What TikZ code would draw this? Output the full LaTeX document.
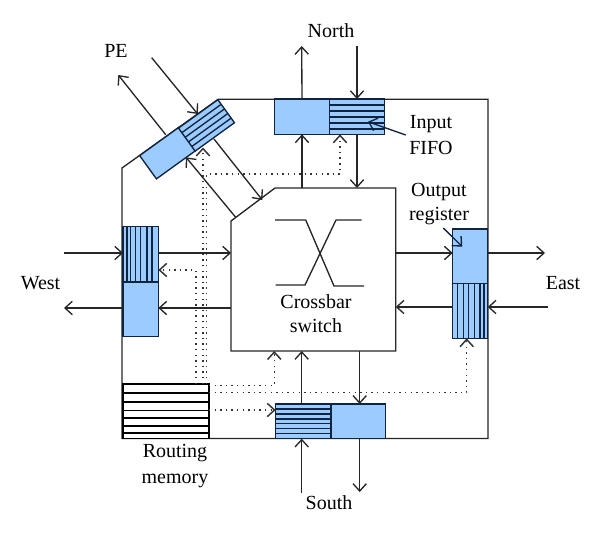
\documentclass[tikz,border=0pt]{standalone}
\usepackage{fontspec}
\setmainfont{Liberation Serif}
\usetikzlibrary{arrows.meta,calc}
\definecolor{boxblue}{HTML}{9CCBFF}
\definecolor{boxline}{HTML}{10233F}
\tikzset{
  >={Straight Barb[length=5.5pt,width=10pt]},
  wire/.style={line width=1pt,black!85},
  flow/.style={wire,->},
  dots/.style={line width=1.1pt,black!80,dash pattern=on 1.1pt off 3.1pt,->},
  cell/.style={draw=boxline,line width=1pt,fill=boxblue,inner sep=0pt,outer sep=0pt},
  rowline/.style={draw=boxline,line width=1pt},
  lab/.style={font=\fontsize{15pt}{17pt}\selectfont,inner sep=0pt,align=center},
  memrow/.style={draw=black,line width=1pt}
}
\newcommand{\cellbox}[6][0]{\node[cell,rotate=#1,minimum width=#4*0.75pt,minimum height=#5*0.75pt] (#2) at (#3) {};}
\begin{document}
\begin{tikzpicture}[x=0.75pt,y=-0.75pt]
\useasboundingbox (0,0) rectangle (600,535);
% router outline
\coordinate (oa) at (122,168);
\coordinate (ob) at (218.3,99.2);
\coordinate (oc) at (488,99.2);
\coordinate (od) at (488,438.5);
\coordinate (oe) at (122,438.5);
\draw[wire,line join=miter] (oa) -- (ob) -- (oc) -- (od) -- (oe) -- cycle;
% crossbar
\node[inner sep=0pt,outer sep=0pt,minimum width=164.7*0.75pt,minimum height=163*0.75pt] (xbar) at (313.35,269.5) {};
\coordinate (cuta) at (275,188);
\coordinate (cutb) at (231,221);
\draw[wire,fill=white] (cuta) -- (xbar.north east) -- (xbar.south east) -- (xbar.south west) -- (cutb) -- cycle;
\coordinate (xa) at (275,220); \coordinate (xb) at (305.7,220); \coordinate (xc) at (334,286); \coordinate (xd) at (364,286);
\coordinate (xe) at (275.7,285); \coordinate (xf) at (305,285); \coordinate (xg) at (336,220); \coordinate (xh) at (361.7,220);
\draw[wire] (xa) -- (xb) -- (xc) -- (xd);
\draw[wire] (xe) -- (xf) -- (xg) -- (xh);
\node[lab] (xtxt) at (316,313.5) {Crossbar\\[1pt]switch};
% buffers
\cellbox{nb}{302,116.7}{54.6}{35.3}{}
\cellbox{nf}{357,116.7}{55.4}{35.3}{}
\cellbox{sf}{303.3,421.3}{55.3}{34.7}{}
\cellbox{sb}{358.4,421.3}{54.7}{34.7}{}
\cellbox{ef}{470.2,310.8}{35}{55}{}
\cellbox{eb}{470.2,256.2}{35}{54.4}{}
\cellbox{wf}{140.7,254.3}{35.3}{55.3}{}
\cellbox{wb}{140.7,309.3}{35.3}{54.7}{}
\cellbox[35.8]{pb}{167.5,153.2}{48}{28.7}{}
\cellbox[35.8]{pf}{206.5,125.4}{48.5}{28.4}{}
\foreach \t in {.17,.34,.51,.68,.85}
  \draw[rowline] ($(nf.north west)!\t!(nf.south west)$) -- ($(nf.north east)!\t!(nf.south east)$);
\foreach \t in {.15,.29,.43,.57,.71,.86}
  \draw[rowline] ($(sf.north west)!\t!(sf.south west)$) -- ($(sf.north east)!\t!(sf.south east)$);
\foreach \t in {.13,.3,.46,.63,.78,.89}
  \draw[rowline] ($(ef.north west)!\t!(ef.north east)$) -- ($(ef.south west)!\t!(ef.south east)$);
\foreach \t in {.11,.22,.36,.5,.68,.82}
  \draw[rowline] ($(wf.north west)!\t!(wf.north east)$) -- ($(wf.south west)!\t!(wf.south east)$);
\foreach \t in {.2,.4,.6,.8}
  \draw[rowline] ($(pf.south west)!\t!(pf.north west)$) -- ($(pf.south east)!\t!(pf.north east)$);
% routing memory
\node[draw=black,line width=1pt,fill=white,inner sep=0pt,outer sep=0pt,minimum width=86*0.75pt,minimum height=54.5*0.75pt] (mem) at (166,411.3) {};
\foreach \t in {.165,.33,.48,.625,.77,.9}
  \draw[memrow] ($(mem.north west)!\t!(mem.south west)$) -- ($(mem.north east)!\t!(mem.south east)$);
% free ends
\coordinate (northout) at (301.7,46);
\coordinate (northin) at (357,46);
\coordinate (southin) at (301.7,493);
\coordinate (southout) at (359.7,492);
\coordinate (eastout) at (545,253);
\coordinate (eastin) at (548,307);
\coordinate (westin) at (64,253);
\coordinate (westout) at (64,308);
\coordinate (peout) at (118.3,75);
\coordinate (pein) at (151.7,57.7);
% north
\draw[flow] (nb.north |- oc) -- (northout);
\draw[flow] (northin) -- (nf.north);
\draw[flow] (nb.south |- xbar.north) -- (nb.south);
\draw[flow] (nf.south) -- (nf.south |- xbar.north);
% south
\draw[flow] (southin) -- (southin |- sf.south);
\draw[flow] (southout |- sb.south) -- (southout);
\draw[flow] (southin |- sf.north) -- (southin |- xbar.south);
\draw[flow] (southout |- xbar.south) -- (southout |- sb.north);
% east
\draw[flow] (xbar.east |- eastout) -- (eb.west |- eastout);
\draw[flow] (eb.east |- eastout) -- (eastout);
\draw[flow] (eastin) -- (ef.east |- eastin);
\draw[flow] (ef.west |- eastin) -- (xbar.east |- eastin);
% west
\draw[flow] (westin) -- (wf.west |- westin);
\draw[flow] (wb.west |- westout) -- (westout);
\draw[flow] (wf.east |- westin) -- (xbar.west |- westin);
\draw[flow] (xbar.west |- westout) -- (wb.east |- westout);
% PE
\coordinate (pa) at (165.7,134.7);
\coordinate (pbt) at (197.7,114);
\coordinate (pc) at (214,139);
\coordinate (pd) at (262.3,200);
\coordinate (pe) at (235.7,217.3);
\coordinate (pg) at (186,157.3);
\draw[flow] (pa) -- (peout);
\draw[flow] (pein) -- (pbt);
\draw[flow] (pc) -- (pd);
\draw[flow] (pe) -- (pg);
% dotted control lines
\coordinate (da) at (196,384);
\coordinate (db) at (203,384);
\coordinate (dc) at (206.7,384);
\coordinate (dd) at (196,270);
\coordinate (dnorth) at (340,174);
\coordinate (m1) at (209,385.7);
\coordinate (m2) at (209,392.7);
\coordinate (m3) at (209,410);
\coordinate (xtap) at (274.3,385.7);
\coordinate (etap) at (466.7,392.7);
\draw[dots] (da) -- (dd) -- (wf.east |- dd);
\draw[dots] (db) -- (203,147.5);
\draw[dots] (dc) -- (dc |- dnorth) -- (dnorth) -- (dnorth |- nf.south);
\draw[dots] (m1) -- (xtap) -- (xtap |- xbar.south);
\draw[dots] (m2) -- (etap) -- (etap |- ef.south);
\draw[dots] (m3) -- (sf.west |- m3);
% labels
\node[lab] (lnorth) at (331,31) {North};
\node[lab] (lpe) at (116,51) {PE};
\node[lab] (lwest) at (40.5,283) {West};
\node[lab] (least) at (563,283) {East};
\node[lab] (lsouth) at (329,503) {South};
\node[lab] (lmem) at (175,466) {Routing\\[2pt]memory};
\node[lab] (lfifo) at (431,135) {Input\\[2pt]FIFO};
\node[lab] (lout) at (439,204.5) {Output\\[1pt]register};
% pointers
\coordinate (pfifo) at (405.7,135);
\coordinate (pfifoend) at (368,121.7);
\coordinate (poutr) at (443.3,228);
\coordinate (poutrend) at (462.3,246.7);
\draw[flow,boxline] (pfifo) -- (pfifoend);
\draw[flow,boxline] (poutr) -- (poutrend);
\end{tikzpicture}
\end{document}
